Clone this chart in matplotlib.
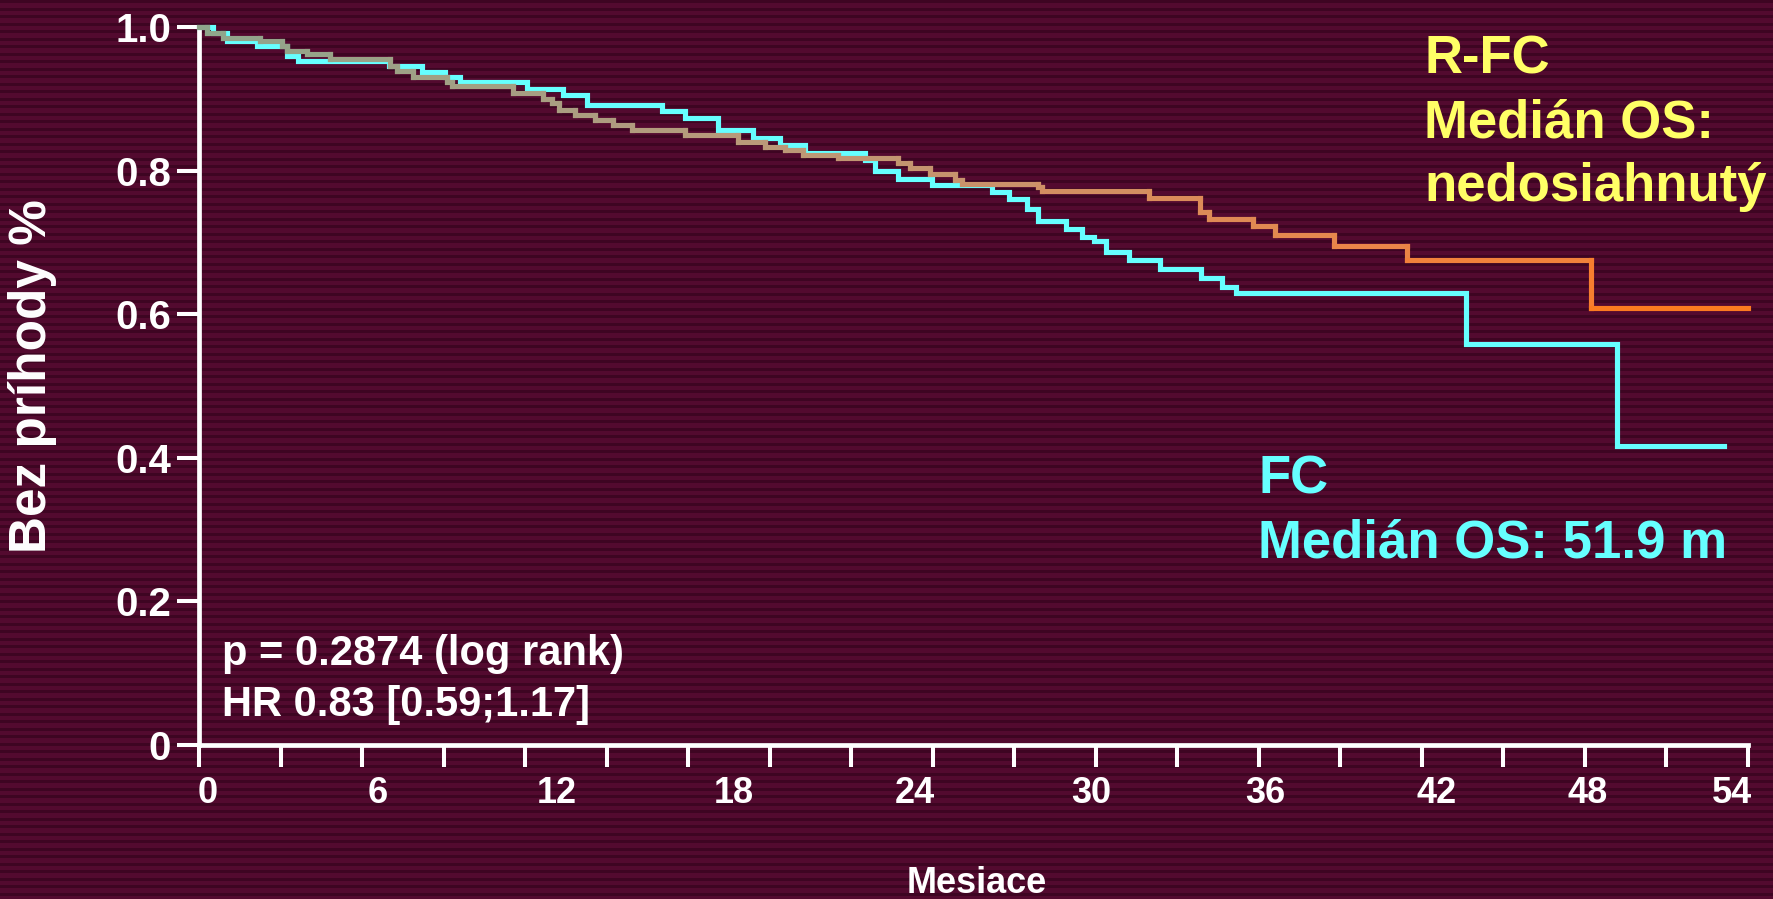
import numpy as np
import matplotlib.pyplot as plt
from matplotlib.collections import LineCollection
from matplotlib.colors import LinearSegmentedColormap

plt.rcParams['font.family'] = ['Liberation Sans', 'DejaVu Sans']
plt.rcParams['font.weight'] = 'bold'

# Kaplan-Meier steps: month of each step, survival after it
fc_t = [0, 0.52, 1.02, 2.12, 3.24, 3.65, 7.0, 8.19, 9.05, 9.61, 12.06, 13.41,
        14.27, 17.03, 17.89, 19.11, 20.40, 21.38, 22.30, 24.50, 24.88, 25.74,
        26.96, 29.17, 29.79, 30.46, 30.89, 31.90, 32.50, 32.93, 33.36, 34.21,
        35.35, 36.87, 37.63, 38.16, 46.64, 52.19]
fc_s = [1.0, 0.992, 0.980, 0.973, 0.960, 0.953, 0.946, 0.938, 0.931, 0.923,
        0.913, 0.905, 0.891, 0.883, 0.873, 0.857, 0.845, 0.836, 0.824, 0.815,
        0.800, 0.788, 0.780, 0.770, 0.760, 0.746, 0.730, 0.718, 0.708, 0.702,
        0.687, 0.676, 0.663, 0.650, 0.638, 0.629, 0.558, 0.417]
fc_end = 56.1

rfc_t = [0, 0.28, 0.89, 2.25, 3.04, 3.23, 3.96, 4.82, 7.03, 7.28, 7.89, 9.12,
         9.30, 11.57, 12.67, 12.98, 13.23, 13.84, 14.57, 15.25, 15.92, 17.89,
         19.85, 20.83, 21.57, 22.24, 23.53, 25.74, 26.17, 26.90, 27.82, 28.07,
         30.89, 31.01, 34.97, 36.83, 37.17, 38.79, 39.58, 41.76, 44.47, 51.22]
rfc_s = [1.0, 0.991, 0.984, 0.980, 0.973, 0.967, 0.962, 0.956, 0.946, 0.939,
         0.931, 0.923, 0.918, 0.908, 0.900, 0.894, 0.885, 0.877, 0.871, 0.864,
         0.856, 0.849, 0.840, 0.833, 0.828, 0.822, 0.817, 0.811, 0.804, 0.795,
         0.787, 0.782, 0.777, 0.772, 0.762, 0.743, 0.732, 0.723, 0.710, 0.695,
         0.675, 0.609]
rfc_end = 57.0

x_ticks = list(range(0, 58, 3))
x_labels = ['0', '6', '12', '18', '24', '30', '36', '42', '48', '54']
x_label_pos = [0.33, 6.59, 13.18, 19.69, 26.35, 32.83, 39.23, 45.56, 51.09, 56.42]
y_ticks = [0, 0.2, 0.4, 0.6, 0.8, 1.0]
y_labels = ['0', '0.2', '0.4', '0.6', '0.8', '1.0']

W, H = 1773, 899
fig = plt.figure(figsize=(W / 100, H / 100), dpi=100)

# striped maroon backdrop
bg = fig.add_axes([0, 0, 1, 1], zorder=-10)
rows = np.arange(H)
dark = (rows % 7.5) < 2.6
base = np.array([83, 10, 47]) / 255
stripe = np.array([62, 5, 34]) / 255
img = np.where(dark[:, None, None], stripe, base)
bg.imshow(img, aspect='auto', interpolation='nearest', extent=[0, 1, 0, 1])
bg.axis('off')

ax = fig.add_axes([199 / W, 1 - 745 / H, (1748 - 199) / W, (745 - 27) / H])
ax.patch.set_alpha(0)
ax.set_xlim(0, 57)
ax.set_ylim(0, 1.0)
for s in ['top', 'right']:
    ax.spines[s].set_visible(False)
for s in ['left', 'bottom']:
    ax.spines[s].set_color('white')
    ax.spines[s].set_linewidth(3.4)
    ax.spines[s].set_capstyle('projecting')

ax.set_xticks(x_ticks)
ax.set_xticklabels([])
ax.set_yticks(y_ticks)
ax.set_yticklabels(y_labels)
ax.tick_params(axis='both', colors='white', length=16, width=2.9, direction='out')
ax.tick_params(axis='y', labelsize=29, labelcolor='white', pad=4)

for lab, xp in zip(x_labels, x_label_pos):
    ax.text(xp, -0.068, lab, transform=ax.get_xaxis_transform(), ha='center', va='center',
            color='white', fontsize=26, fontweight='bold')

# FC arm
ax.step(fc_t + [fc_end], fc_s + [fc_s[-1]], where='post', color='#66FFFF', lw=3.7,
        clip_on=False, solid_joinstyle='miter', zorder=3)

# R-FC arm, colour shifting from grey-green to orange along time
pts = [(rfc_t[0], rfc_s[0])]
for i in range(1, len(rfc_t)):
    pts.append((rfc_t[i], rfc_s[i - 1]))
    pts.append((rfc_t[i], rfc_s[i]))
pts.append((rfc_end, rfc_s[-1]))
pts = np.array(pts)
segs = np.stack([pts[:-1], pts[1:]], axis=1)
mid = segs[:, :, 0].mean(axis=1) / rfc_end
cmap = LinearSegmentedColormap.from_list('rfc', [
    (0.0, '#8FA68C'), (0.22, '#A89E82'), (0.35, '#B99A7A'), (0.5, '#C8936C'),
    (0.6, '#D68D5E'), (0.75, '#E8864A'), (0.9, '#F77E30'), (1.0, '#FF7812')])
lc = LineCollection(segs, colors=cmap(mid), linewidths=3.7, capstyle='projecting',
                    clip_on=False, zorder=4)
ax.add_collection(lc)

# annotations
yel = '#FFFF66'
cya = '#66FFFF'
fig.text(1424 / W, 1 - 74 / H, 'R-FC', color=yel, fontsize=38, va='baseline')
fig.text(1424 / W, 1 - 137 / H, 'Medián OS:', color=yel, fontsize=38, va='baseline')
fig.text(1424 / W, 1 - 201 / H, 'nedosiahnutý', color=yel, fontsize=38, va='baseline')
fig.text(1258 / W, 1 - 494 / H, 'FC', color=cya, fontsize=38, va='baseline')
fig.text(1258 / W, 1 - 558 / H, 'Medián OS: 51.9 m', color=cya, fontsize=38, va='baseline')

fig.text(222 / W, 1 - 665 / H, 'p = 0.2874 (log rank)', color='white', fontsize=30,
         va='baseline')
fig.text(222 / W, 1 - 716 / H, 'HR 0.83 [0.59;1.17]', color='white', fontsize=30,
         va='baseline')

fig.text(33 / W, 1 - 376 / H, 'Bez príhody %', color='white', fontsize=37,
         rotation=90, ha='center', va='center')
fig.text(977 / W, 1 - 893 / H, 'Mesiace', color='white', fontsize=26,
         ha='center', va='baseline')

fig.savefig('out.png', dpi=100)
